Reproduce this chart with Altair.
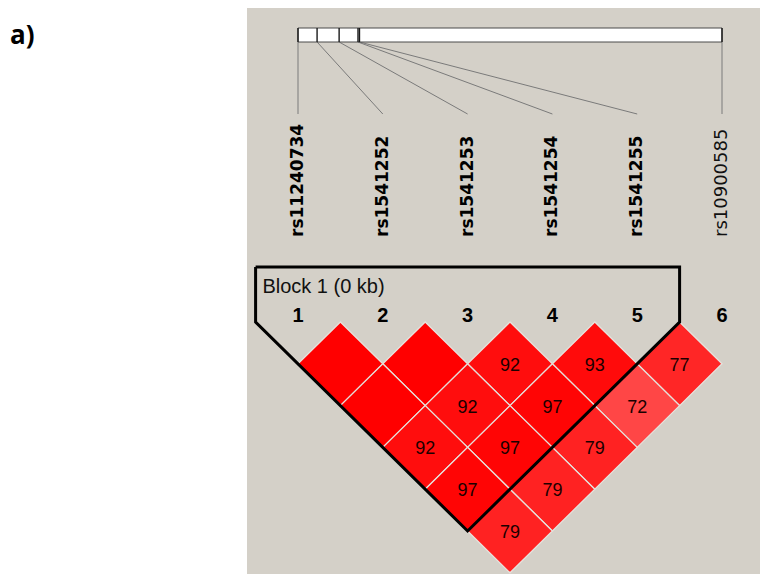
import altair as alt
import pandas as pd

# ---------------- data ----------------
panel_label = "a)"
snps = ["rs11240734", "rs1541252", "rs1541253", "rs1541254", "rs1541255", "rs10900585"]
snp_bold = [True, True, True, True, True, False]
# relative physical position of each SNP along the region bar (0..1)
bar_pos = [0.0, 0.045, 0.097, 0.1415, 0.145, 1.0]
# pairwise D' (x100); 100 is drawn without a number
pair_i = [1, 2, 3, 4, 5, 1, 2, 3, 4, 1, 2, 3, 1, 2, 1]
pair_j = [2, 3, 4, 5, 6, 3, 4, 5, 6, 4, 5, 6, 5, 6, 6]
dprime = [100, 100, 92, 93, 77, 100, 92, 97, 72, 92, 97, 79, 97, 79, 79]
block_start, block_end = 1, 5
block_label = "Block 1 (0 kb)"

# ---------------- layout (units: 1 = SNP spacing) ----------------
PXX, PXY = 84.8, 83.6
def ux(px):
    return 1 + (px - 298) / PXX
def uy(py):
    return (py - 322) / PXY

W, H = 752, 566
xdom = [ux(8), ux(8 + W)]
ydom = [uy(8), uy(8 + H)]
X = lambda f: alt.X(f, type="quantitative", scale=alt.Scale(domain=xdom, nice=False, zero=False), axis=None)
Y = lambda f: alt.Y(f, type="quantitative", scale=alt.Scale(domain=ydom, nice=False, zero=False, reverse=True), axis=None)

n = len(snps)
bar_left, bar_right = 1, n
bar_top, bar_bot = uy(28), uy(42)
conn_end = uy(114)
label_y = uy(237)

# panel background
panel = alt.Chart(pd.DataFrame({"x": [ux(247)], "x2": [ux(780)], "y": [uy(0)], "y2": [uy(579)]})).mark_rect(
    color="#d4d0c8", clip=True).encode(x=X("x"), x2="x2", y=Y("y"), y2="y2")

# connector lines from bar to labels
conn_df = pd.DataFrame({
    "x": [bar_left + p * (bar_right - bar_left) for p in bar_pos],
    "y": [bar_bot] * n,
    "x2": list(range(1, n + 1)),
    "y2": [conn_end] * n,
})
conn = alt.Chart(conn_df).mark_rule(color="#7a7a7a", strokeWidth=1).encode(
    x=X("x"), y=Y("y"), x2="x2", y2="y2")

bar = alt.Chart(pd.DataFrame({"x": [bar_left], "x2": [bar_right], "y": [bar_top], "y2": [bar_bot]})).mark_rect(
    fill="white", stroke="#4a4a4a", strokeWidth=1).encode(x=X("x"), x2="x2", y=Y("y"), y2="y2")

tick_df = pd.DataFrame({"x": conn_df["x"], "y": [bar_top] * n, "y2": [bar_bot] * n})
ticks = alt.Chart(tick_df).mark_rule(color="#1a1a1a", strokeWidth=1.4).encode(
    x=X("x"), y=Y("y"), y2="y2")

lab_df = pd.DataFrame({"x": list(range(1, n + 1)), "y": [label_y] * n, "name": snps, "bold": snp_bold})
labels_b = alt.Chart(lab_df[lab_df.bold]).mark_text(
    angle=270, align="left", baseline="middle", font="DejaVu Sans", fontWeight="bold", fontSize=17, color="black"
).encode(x=X("x"), y=Y("y"), text="name")
labels_r = alt.Chart(lab_df[~lab_df.bold]).mark_text(
    angle=270, align="left", baseline="middle", font="DejaVu Sans", fontSize=18, color="#111"
).encode(x=X("x"), y=Y("y"), text="name")

# SNP numbers
num_df = pd.DataFrame({"x": list(range(1, n + 1)), "y": [uy(316)] * n, "t": [str(k) for k in range(1, n + 1)]})
nums = alt.Chart(num_df).mark_text(
    font="Liberation Sans", fontWeight="bold", fontSize=20, baseline="middle", align="center", color="black"
).encode(x=X("x"), y=Y("y"), text="t")

# diamonds
rows = []
for k, (i, j, d) in enumerate(zip(pair_i, pair_j, dprime)):
    cx, cy = (i + j) / 2, (j - i) / 2
    for dx, yt, yb in [(-0.5, cy, cy), (0, cy - 0.5, cy + 0.5), (0.5, cy, cy)]:
        rows.append({"cell": k, "x": cx + dx, "y": yt, "y2": yb, "d": d})
dia_df = pd.DataFrame(rows)
cscale = alt.Scale(domain=[72, 77, 79, 92, 93, 97, 100],
                   range=["#ff4646", "#ff2626", "#ff2222", "#ff0d0d", "#ff0b0b", "#ff0505", "#ff0000"])
diamonds = alt.Chart(dia_df).mark_area(stroke="#e6e2dc", strokeWidth=1.3, opacity=1).encode(
    x=X("x"), y=Y("y"), y2="y2",
    color=alt.Color("d:Q", scale=cscale, legend=None),
    detail="cell:N")

val_df = pd.DataFrame({"x": [(i + j) / 2 for i, j in zip(pair_i, pair_j)],
                       "y": [(j - i) / 2 for i, j in zip(pair_i, pair_j)],
                       "d": dprime})
val_df = val_df[val_df.d < 100]
vals = alt.Chart(val_df).mark_text(
    font="Liberation Sans", fontSize=18, baseline="middle", align="center", color="#1a0000", dy=2
).encode(x=X("x"), y=Y("y"), text="d:Q")

# block outline
s, e = block_start, block_end
top = uy(267)
blk_df = pd.DataFrame({
    "x": [s - 0.5, e + 0.5, e + 0.5, (s + e) / 2, s - 0.5, s - 0.5],
    "y": [top, top, 0, (e - s) / 2 + 0.5, 0, top],
    "o": list(range(6)),
})
block = alt.Chart(blk_df).mark_line(color="black", strokeWidth=3, strokeJoin="miter").encode(
    x=X("x"), y=Y("y"), order="o:Q")
blk_txt = alt.Chart(pd.DataFrame({"x": [s - 0.5 + 0.08], "y": [uy(287)], "t": [block_label]})).mark_text(
    font="Liberation Sans", fontSize=20, align="left", baseline="middle", color="#111"
).encode(x=X("x"), y=Y("y"), text="t")

plabel = alt.Chart(pd.DataFrame({"x": [ux(10)], "y": [uy(44)], "t": [panel_label]})).mark_text(
    font="Open Sans", fontWeight="bold", fontSize=26, align="left", baseline="alphabetic", color="black"
).encode(x=X("x"), y=Y("y"), text="t")

chart = alt.layer(panel, conn, bar, ticks, labels_b, labels_r, nums, diamonds, block, vals, blk_txt, plabel).properties(
    width=W, height=H, autosize=alt.AutoSizeParams(type="none"), padding=0, background="white"
).configure_view(stroke=None)

chart.save("out.html", embed_options={"renderer": "svg", "actions": False})
